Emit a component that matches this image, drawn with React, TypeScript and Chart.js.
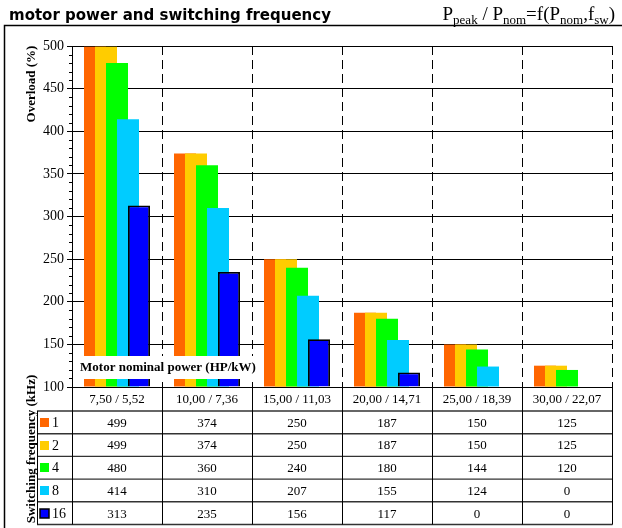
import React, { useEffect, useRef } from "react";
import { Chart, registerables } from "chart.js";

Chart.register(...registerables);

// ---- data ----
const categories = ["7,50 / 5,52", "10,00 / 7,36", "15,00 / 11,03", "20,00 / 14,71", "25,00 / 18,39", "30,00 / 22,07"];
const seriesLabels = ["1", "2", "4", "8", "16"];
const freq1 = [499, 374, 250, 187, 150, 125];
const freq2 = [499, 374, 250, 187, 150, 125];
const freq4 = [480, 360, 240, 180, 144, 120];
const freq8 = [414, 310, 207, 155, 124, 0];
const freq16 = [313, 235, 156, 117, 0, 0];
const seriesValues = [freq1, freq2, freq4, freq8, freq16];
const seriesColors = ["#FF6600", "#FFCC00", "#00FF00", "#00CCFF", "#0000FF"];
const yMin = 100;
const yMax = 500;
const yStep = 50;
const yMinorStep = 10;

const titleText = "motor power and switching frequency";
const yTitle = "Overload (%)";
const tableTitle = "Switching frequency (kHz)";
const xTitle = "Motor nominal power (HP/kW)";
const formulaParts: [string, boolean][] = [
  ["P", false], ["peak", true], [" / P", false], ["nom", true], ["=f(P", false], ["nom", true], [",f", false], ["sw", true], [")", false],
];

const serif = "'Liberation Serif', 'Times New Roman', serif";

const decorPlugin = {
  id: "decor",
  beforeDatasetsDraw(chart: any) {
    const { ctx, chartArea, scales } = chart;
    const { top, bottom } = chartArea;
    const x = scales.x;
    const n = categories.length;
    const cw = x.getPixelForValue(1) - x.getPixelForValue(0);
    ctx.save();
    ctx.strokeStyle = "#000";
    ctx.lineWidth = 1;
    ctx.setLineDash([9, 5]);
    for (let k = 0; k < n; k++) {
      const px = Math.round(x.getPixelForValue(k) + cw / 2) + 0.5;
      ctx.beginPath();
      ctx.moveTo(px, top);
      ctx.lineTo(px, bottom);
      ctx.stroke();
    }
    ctx.restore();
    // draw datasets so the later series lie on top of the earlier ones
    const metas = chart.getSortedVisibleDatasetMetas().slice().sort((a: any, b: any) => a.index - b.index);
    metas.forEach((m: any) => m.controller.draw());
    return false;
  },
  afterDraw(chart: any) {
    const { ctx, chartArea, scales } = chart;
    const { left, right, bottom } = chartArea;
    const x = scales.x;
    const y = scales.y;
    const n = categories.length;
    const cw = x.getPixelForValue(1) - x.getPixelForValue(0);
    ctx.save();

    // outer frame
    ctx.strokeStyle = "#000";
    ctx.lineWidth = 1.5;
    ctx.beginPath();
    ctx.moveTo(622, 25.5);
    ctx.lineTo(4.5, 25.5);
    ctx.lineTo(4.5, 528);
    ctx.stroke();

    // title
    ctx.fillStyle = "#000";
    ctx.textBaseline = "alphabetic";
    ctx.textAlign = "left";
    ctx.font = "bold 15px 'DejaVu Sans'";
    ctx.fillText(titleText, 9, 20);

    // formula
    const mainFont = `19px ${serif}`;
    const subFont = `13px ${serif}`;
    let total = 0;
    formulaParts.forEach(([t, sub]) => {
      ctx.font = sub ? subFont : mainFont;
      total += ctx.measureText(t).width;
    });
    let fx = 615 - total;
    formulaParts.forEach(([t, sub]) => {
      ctx.font = sub ? subFont : mainFont;
      ctx.fillText(t, fx, sub ? 24 : 20);
      fx += ctx.measureText(t).width;
    });

    // minor ticks
    ctx.strokeStyle = "#000";
    ctx.lineWidth = 1;
    for (let v = yMin; v <= yMax; v += yMinorStep) {
      if (v % yStep === 0) continue;
      const py = Math.round(y.getPixelForValue(v)) + 0.5;
      ctx.beginPath();
      ctx.moveTo(left - 3, py);
      ctx.lineTo(left, py);
      ctx.stroke();
    }

    // rotated titles
    ctx.font = `bold 13px ${serif}`;
    ctx.textAlign = "center";
    ctx.textBaseline = "middle";
    ctx.save();
    ctx.translate(32, 84);
    ctx.rotate(-Math.PI / 2);
    ctx.fillText(yTitle, 0, 0);
    ctx.restore();
    ctx.save();
    ctx.translate(32, 449);
    ctx.rotate(-Math.PI / 2);
    ctx.fillText(tableTitle, 0, 0);
    ctx.restore();

    // x title box
    ctx.fillStyle = "#fff";
    ctx.fillRect(left + 7, bottom - 31, 178, 23);
    ctx.fillStyle = "#000";
    ctx.fillText(xTitle, left + 96, bottom - 19);

    // table
    const headBottom = bottom + 24;
    const rowH = 22.7;
    const tableBottom = headBottom + rowH * seriesLabels.length;
    const legendLeft = 37;
    ctx.strokeStyle = "#333";
    ctx.lineWidth = 1.4;
    for (let r = 0; r <= seriesLabels.length; r++) {
      const py = headBottom + r * rowH;
      ctx.beginPath();
      ctx.moveTo(legendLeft, py);
      ctx.lineTo(right + 0.5, py);
      ctx.stroke();
    }
    ctx.strokeStyle = "#000";
    ctx.lineWidth = 1;
    for (let k = 0; k <= n; k++) {
      const px = Math.round(x.getPixelForValue(0) - cw / 2 + k * cw) + 0.5;
      ctx.beginPath();
      ctx.moveTo(px, bottom);
      ctx.lineTo(px, tableBottom);
      ctx.stroke();
    }
    ctx.beginPath();
    ctx.moveTo(legendLeft + 0.5, headBottom);
    ctx.lineTo(legendLeft + 0.5, tableBottom);
    ctx.stroke();

    ctx.font = `13px ${serif}`;
    ctx.textAlign = "center";
    ctx.textBaseline = "middle";
    ctx.fillStyle = "#000";
    categories.forEach((c, i) => {
      ctx.fillText(c, x.getPixelForValue(i), (bottom + headBottom) / 2 + 1);
    });
    seriesValues.forEach((vals, s) => {
      const cy = headBottom + rowH * (s + 0.5) + 1;
      vals.forEach((v, i) => {
        ctx.fillText(String(v), x.getPixelForValue(i), cy);
      });
    });
    // legend cells
    ctx.textAlign = "left";
    seriesLabels.forEach((lab, s) => {
      const cy = headBottom + rowH * (s + 0.5);
      ctx.fillStyle = seriesColors[s];
      ctx.fillRect(40, Math.round(cy - 4.5), 9, 9);
      if (s === seriesLabels.length - 1) {
        ctx.strokeStyle = "#000";
        ctx.lineWidth = 1.5;
        ctx.strokeRect(40, Math.round(cy - 4.5), 9, 9);
      }
      ctx.fillStyle = "#000";
      ctx.font = `14px ${serif}`;
      ctx.fillText(lab, 52, cy + 1);
    });

    ctx.restore();
  },
};

export default function App() {
  const canvasRef = useRef<HTMLCanvasElement | null>(null);

  useEffect(() => {
    if (!canvasRef.current) return;
    const chart = new Chart(canvasRef.current, {
      type: "bar",
      data: {
        labels: categories,
        datasets: seriesValues.map((vals, s) => ({
          label: seriesLabels[s],
          data: vals.map((v) => (v === 0 ? null : v)),
          backgroundColor: seriesColors[s],
          borderColor: "#000",
          borderWidth: s === seriesValues.length - 1 ? 1.8 : 0,
          base: yMin,
          categoryPercentage: 55 / 90,
          barPercentage: 2,
        })),
      },
      options: {
        animation: false,
        responsive: false,
        layout: { padding: { left: 0, right: 10, top: 46, bottom: 141 } },
        plugins: { legend: { display: false }, tooltip: { enabled: false } },
        scales: {
          x: { type: "category", display: false, offset: true },
          y: {
            min: yMin,
            max: yMax,
            ticks: { stepSize: yStep, font: { family: serif, size: 14 }, color: "#000", padding: 3 },
            grid: { color: "#000", lineWidth: 1, tickLength: 5 },
            border: { color: "#000", width: 1 },
            afterFit: (s: any) => {
              s.width = 72;
            },
          },
        },
      } as any,
      plugins: [decorPlugin as any],
    });
    return () => chart.destroy();
  }, []);

  return (
    <div style={{ position: "absolute", left: 0, top: 0, width: 622, height: 528, background: "#fff" }}>
      <canvas ref={canvasRef} width={622} height={528} style={{ display: "block", width: 622, height: 528 }} />
    </div>
  );
}
